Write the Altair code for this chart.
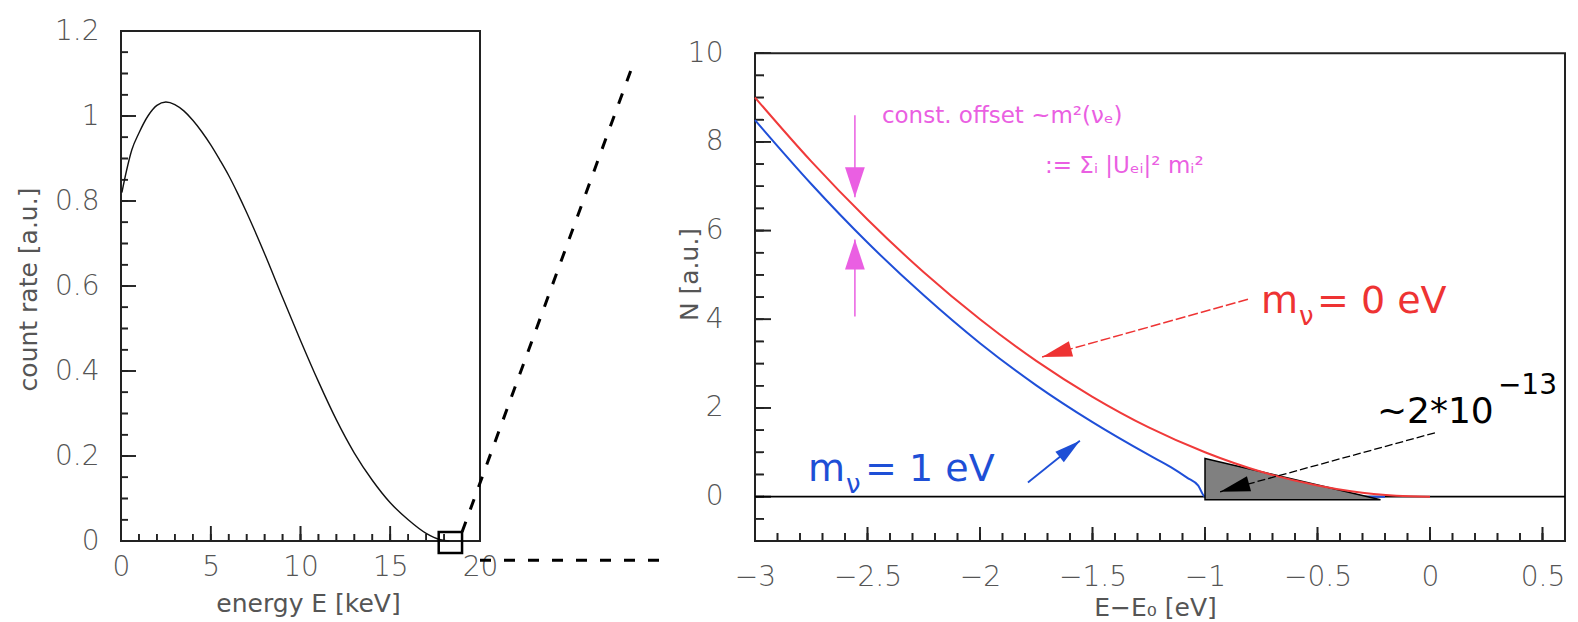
import math
import altair as alt
import pandas as pd

# ---------------- data ----------------
# left panel: tritium beta spectrum
spec_E = [0.05, 0.3, 0.6, 1.0, 1.5, 2.0, 2.5, 3.0, 3.5, 4.0, 4.5, 5.0, 5.5, 6.0,
          6.5, 7.0, 8.0, 9.0, 10.0, 11.0, 12.0, 13.0, 14.0, 15.0, 16.0, 17.0,
          17.8, 18.3]
spec_rate = [0.82, 0.87, 0.92, 0.96, 1.0, 1.025, 1.033, 1.027, 1.012, 0.99, 0.963,
             0.932, 0.897, 0.86, 0.818, 0.773, 0.676, 0.573, 0.472, 0.375, 0.285,
             0.207, 0.143, 0.09, 0.05, 0.018, 0.003, 0.0]

# right panel: endpoint region
dE_m0 = [-3.0, -2.75, -2.5, -2.25, -2.0, -1.75, -1.5, -1.25, -1.0, -0.75, -0.5,
         -0.35, -0.25, -0.15, 0.0]
N_m0 = [9.0, 7.56, 6.25, 5.06, 4.0, 3.06, 2.25, 1.56, 1.0, 0.56, 0.25, 0.12,
        0.06, 0.02, 0.0]
dE_m1 = [-3.0, -2.75, -2.5, -2.25, -2.0, -1.75, -1.5, -1.25, -1.15, -1.08, -1.03,
         -1.0, -0.6, -0.2]
N_m1 = [8.49, 7.05, 5.73, 4.54, 3.46, 2.51, 1.68, 0.94, 0.66, 0.43, 0.25, 0.0,
        0.0, 0.0]

# tick values / labels
L_x_labels = [0, 5, 10, 15, 20]
L_x_minor = list(range(0, 21))
L_y_labels = [0, 0.2, 0.4, 0.6, 0.8, 1.0, 1.2]
L_y_minor = [round(i * 0.05, 2) for i in range(25)]
R_x_labels = [-3, -2.5, -2, -1.5, -1, -0.5, 0, 0.5]
R_x_minor = [round(-3 + i * 0.1, 1) for i in range(37)]
R_y_labels = [0, 2, 4, 6, 8, 10]
R_y_minor = [-1 + 0.5 * i for i in range(23)]

# domains
L_xdom = [0, 20]
L_ydom = [0, 1.2]
R_xdom = [-3, 0.6]
R_ydom = [-1, 10.5]
R_frame_top = 10

# region markers
zoom_box = {"x": [17.7], "x2": [19.0], "y": [-0.028], "y2": [0.021]}
connector = {"x": [19.0, 20.0], "y": [0.021, -0.045], "x2": [28.6, 30.1], "y2": [1.13, -0.045]}
tri_x = [-1.0, -0.22]
tri_top = [0.86, -0.07]
tri_bottom = [-0.07, -0.07]

# ---------------- sizes ----------------
LW, LH = 359, 510
RW, RH = 810, 510
LPX = LW / (L_xdom[1] - L_xdom[0])
LPY = LH / (L_ydom[1] - L_ydom[0])
PX = RW / (R_xdom[1] - R_xdom[0])
PY = RH / (R_ydom[1] - R_ydom[0])

FONT = "DejaVu Sans"
GRAY = "#555555"
TICK = "#222222"


def ang(x0, y0, x1, y1):
    dxp = (x1 - x0) * PX
    dyp = -(y1 - y0) * PY
    return math.degrees(math.atan2(dxp, -dyp)) % 360


def tick_layers(xs, xa, ys, ya, vals, orient, start, length_px, ppu, w=1.6):
    n = len(vals)
    lu = length_px / ppu
    X = alt.X("x:Q", scale=xs, axis=xa)
    Y = alt.Y("y:Q", scale=ys, axis=ya)
    if orient == "x":
        df = pd.DataFrame({"x": vals, "x2": vals, "y": [start] * n, "y2": [start + lu] * n,
                           "yc": [start + lu / 2] * n})
        rule = alt.Chart(df).mark_rule(color=TICK, strokeWidth=w).encode(
            x=X, x2="x2:Q", y=Y, y2="y2:Q")
        tk = alt.Chart(df).mark_tick(color=TICK, thickness=w, size=length_px,
                                     orient="vertical", opacity=1).encode(
            x=X, y=alt.Y("yc:Q", scale=ys, axis=ya))
        return [rule, tk]
    df = pd.DataFrame({"y": vals, "y2": vals, "x": [start] * n, "x2": [start + lu] * n,
                       "xc": [start + lu / 2] * n})
    rule = alt.Chart(df).mark_rule(color=TICK, strokeWidth=w).encode(
        x=X, x2="x2:Q", y=Y, y2="y2:Q")
    tk = alt.Chart(df).mark_tick(color=TICK, thickness=w, size=length_px,
                                 orient="horizontal", opacity=1).encode(
        y=Y, x=alt.X("xc:Q", scale=xs, axis=xa))
    return [rule, tk]


# ================= LEFT PANEL =================
xsL = alt.Scale(domain=L_xdom, nice=False, zero=False, padding=0)
ysL = alt.Scale(domain=L_ydom, nice=False, zero=False, padding=0)
xaxL = alt.Axis(values=L_x_labels, format=".2~f", labelPadding=12, labelFlush=False,
                title="energy E  [keV]", titleX=187, titleY=62,
                titleBaseline="middle", titleAlign="center")
yaxL = alt.Axis(values=L_y_labels, format=".2~f", labelPadding=22, labelFlush=False,
                title="count rate [a.u.]", titleX=-93, titleY=258, titleAngle=270,
                titleBaseline="middle", titleAlign="center")
XL = alt.X("x:Q", scale=xsL, axis=xaxL)
YL = alt.Y("y:Q", scale=ysL, axis=yaxL)

frameL = alt.Chart(pd.DataFrame({"x": [L_xdom[0]], "x2": [L_xdom[1]], "y": [L_ydom[0]], "y2": [L_ydom[1]]})).mark_rect(
    fillOpacity=0, stroke="#222222", strokeWidth=2).encode(x=XL, x2="x2:Q", y=YL, y2="y2:Q")

curveL = alt.Chart(pd.DataFrame({"x": spec_E, "y": spec_rate})).mark_line(
    color="#111", strokeWidth=1.4, interpolate="monotone").encode(x=XL, y=YL)

boxL = alt.Chart(pd.DataFrame(zoom_box)).mark_rect(
    fillOpacity=0, stroke="black", strokeWidth=2.5, clip=False).encode(x=XL, x2="x2:Q", y=YL, y2="y2:Q")

connL = alt.Chart(pd.DataFrame(connector)).mark_rule(
    color="black", strokeWidth=3, strokeDash=[11, 13], clip=False).encode(x=XL, x2="x2:Q", y=YL, y2="y2:Q")

left = alt.layer(
    frameL,
    *tick_layers(xsL, xaxL, ysL, yaxL, L_x_minor, "x", L_ydom[0], 7, LPY),
    *tick_layers(xsL, xaxL, ysL, yaxL, L_x_labels, "x", L_ydom[0], 15, LPY),
    *tick_layers(xsL, xaxL, ysL, yaxL, L_y_minor, "y", L_xdom[0], 7, LPX),
    *tick_layers(xsL, xaxL, ysL, yaxL, L_y_labels, "y", L_xdom[0], 15, LPX),
    curveL, boxL, connL,
).properties(width=LW, height=LH)

# ================= RIGHT PANEL =================
xsR = alt.Scale(domain=R_xdom, nice=False, zero=False, padding=0)
ysR = alt.Scale(domain=R_ydom, nice=False, zero=False, padding=0)
xaxR = alt.Axis(values=R_x_labels, format=".2~f", labelPadding=22, labelFlush=False,
                title="E\u2212E\u2080  [eV]", titleX=400, titleY=66,
                titleBaseline="middle", titleAlign="center")
yaxR = alt.Axis(values=R_y_labels, format=".2~f", labelPadding=32, labelFlush=False,
                title="N [a.u.]", titleX=-66, titleY=243, titleAngle=270,
                titleBaseline="middle", titleAlign="center")
XR = alt.X("x:Q", scale=xsR, axis=xaxR)
YR = alt.Y("y:Q", scale=ysR, axis=yaxR)

frameR = alt.Chart(pd.DataFrame({"x": [R_xdom[0]], "x2": [R_xdom[1]], "y": [R_ydom[0]], "y2": [R_frame_top]})).mark_rect(
    fillOpacity=0, stroke="#222222", strokeWidth=2).encode(x=XR, x2="x2:Q", y=YR, y2="y2:Q")

baseR = alt.Chart(pd.DataFrame({"x": [R_xdom[0]], "x2": [R_xdom[1]], "y": [0]})).mark_rule(
    color="black", strokeWidth=1.8).encode(x=XR, x2="x2:Q", y=YR)

blueR = alt.Chart(pd.DataFrame({"x": dE_m1, "y": N_m1})).mark_line(
    color="#1f4fd8", strokeWidth=2, interpolate="monotone").encode(x=XR, y=YR)
redR = alt.Chart(pd.DataFrame({"x": dE_m0, "y": N_m0})).mark_line(
    color="#f03a3a", strokeWidth=2, interpolate="monotone").encode(x=XR, y=YR)

triR = alt.Chart(pd.DataFrame({"x": tri_x, "y": tri_top, "y2": tri_bottom})).mark_area(
    color="#808080", stroke="black", strokeWidth=1.5, fillOpacity=1).encode(x=XR, y=YR, y2="y2:Q")

HEAD = "M0,0L-0.33,1L0.33,1Z"
HEAD_N = "M0,0L-0.26,1L0.26,1Z"


def arrow(x0, y0, x1, y1, color, dash=None, w=1.5, head=HEAD_N, size=3600):
    df = pd.DataFrame({"x": [x0], "y": [y0], "x2": [x1], "y2": [y1]})
    kw = dict(color=color, strokeWidth=w)
    if dash:
        kw["strokeDash"] = dash
    shaft = alt.Chart(df).mark_rule(**kw).encode(x=XR, y=YR, x2="x2:Q", y2="y2:Q")
    tip = alt.Chart(pd.DataFrame({"x": [x1], "y": [y1]})).mark_point(
        shape=head, filled=True, size=size, angle=ang(x0, y0, x1, y1),
        color=color, opacity=1, strokeWidth=0).encode(x=XR, y=YR)
    return [shaft, tip]


PINK = "#ea5fe2"
RED = "#ee3333"
BLUE = "#1e4fd6"

arrows = []
arrows += arrow(-2.556, 8.6, -2.556, 6.75, PINK, head=HEAD, size=3600)
arrows += arrow(-2.556, 4.06, -2.556, 5.80, PINK, head=HEAD, size=3600)
arrows += arrow(-0.809, 4.45, -1.724, 3.15, RED, dash=[10, 3], w=1.5)
arrows += arrow(-1.787, 0.32, -1.556, 1.26, BLUE, w=1.8, size=2704)
arrows += arrow(0.022, 1.44, -0.933, 0.11, "black", dash=[8, 3], w=1.3)


def txt(x, y, t, size, color, dx=0, dy=0):
    return alt.Chart(pd.DataFrame({"x": [x], "y": [y], "t": [t]})).mark_text(
        align="left", baseline="middle", font=FONT, fontSize=size, color=color,
        dx=dx, dy=dy).encode(x=XR, y=YR, text="t:N")


texts = [
    txt(-2.436, 8.59, "const. offset ~m\u00b2(\u03bd\u2091)", 23, PINK),
    txt(-1.711, 7.46, ":= \u03a3\u1d62 |U\u2091\u1d62|\u00b2 m\u1d62\u00b2", 23, PINK),
    txt(-0.751, 4.40, "m", 38, RED),
    txt(-0.751, 4.40, "\u03bd", 26, RED, dx=38, dy=15),
    txt(-0.751, 4.40, "= 0 eV", 38, RED, dx=56),
    txt(-2.764, 0.61, "m", 38, BLUE),
    txt(-2.764, 0.61, "\u03bd", 26, BLUE, dx=38, dy=15),
    txt(-2.764, 0.61, "= 1 eV", 38, BLUE, dx=57),
    txt(-0.236, 1.90, "~2*10", 36, "black"),
    txt(-0.236, 1.90, "\u221213", 28, "black", dx=121, dy=-26),
]

right = alt.layer(
    frameR,
    *tick_layers(xsR, xaxR, ysR, yaxR, R_x_minor, "x", R_ydom[0], 8, PY),
    *tick_layers(xsR, xaxR, ysR, yaxR, R_x_labels, "x", R_ydom[0], 14, PY),
    *tick_layers(xsR, xaxR, ysR, yaxR, R_y_minor, "y", R_xdom[0], 9, PX),
    *tick_layers(xsR, xaxR, ysR, yaxR, R_y_labels, "y", R_xdom[0], 16, PX),
    baseR, blueR, triR, redR, *arrows, *texts,
).properties(width=RW, height=RH)

chart = alt.HConcatChart(hconcat=[left, right], spacing=275, bounds="flush").properties(
    padding={"left": 16, "top": 17, "right": 0, "bottom": 0}
).configure_view(strokeWidth=0).configure_axis(
    domain=False, ticks=False, grid=False,
    labelFont=FONT, labelFontSize=28, labelColor=GRAY, labelFontWeight=300,
    titleFont=FONT, titleFontSize=25, titleColor=GRAY, titleFontWeight="normal",
)

chart.save("out.html", embed_options={"renderer": "svg", "actions": False})
